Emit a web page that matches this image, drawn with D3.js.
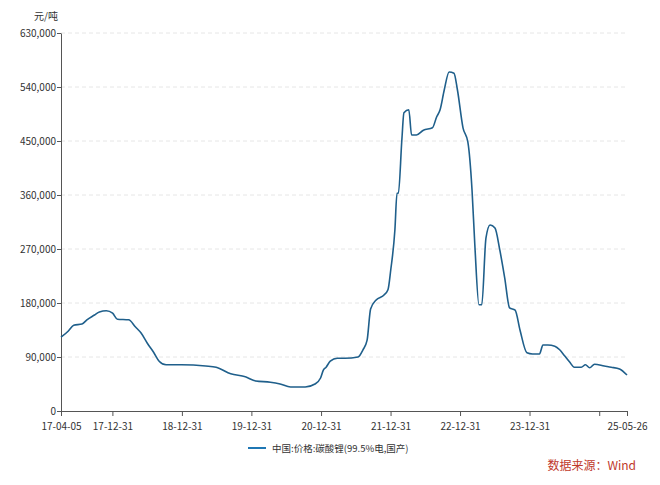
<!DOCTYPE html>
<html><head><meta charset="utf-8">
<script src="https://cdn.jsdelivr.net/npm/d3@7"></script>
<style>body{margin:0;background:#fff}svg{font-family:"Noto Sans CJK SC","Noto Sans",sans-serif}</style>
</head><body>
<svg id="chart" width="660" height="485"></svg>
<script>
// decimal years
var years = [2017.26,2017.36,2017.44,2017.56,2017.63,2017.74,2017.81,2017.91,2018.0,2018.07,2018.23,2018.33,2018.41,2018.5,2018.59,2018.67,2018.77,2018.99,2019.34,2019.49,2019.7,2019.91,2020.06,2020.27,2020.41,2020.56,2020.77,2020.91,2020.99,2021.03,2021.07,2021.13,2021.23,2021.34,2021.53,2021.6,2021.66,2021.71,2021.79,2021.9,2021.96,2022.0,2022.06,2022.09,2022.11,2022.16,2022.19,2022.26,2022.3,2022.37,2022.47,2022.6,2022.66,2022.71,2022.77,2022.84,2022.91,2022.96,2023.04,2023.11,2023.17,2023.21,2023.27,2023.31,2023.37,2023.43,2023.5,2023.57,2023.64,2023.71,2023.79,2023.86,2023.96,2024.04,2024.14,2024.19,2024.26,2024.36,2024.43,2024.5,2024.57,2024.64,2024.74,2024.8,2024.86,2024.93,2025.07,2025.17,2025.29,2025.4]
var prices = [123,133,143,145,152,160,165,167,163,153,152,140,130,113,98,83,77,77,75,73,62,57,50,48,45,40,40,45,55,68,73,83,88,88,90,102,118,170,185,193,202,235,302,363,363,452,497,502,460,460,468,472,490,502,535,565,563,535,472,448,368,277,177,177,288,310,305,268,222,172,168,135,97,95,95,110,110,108,102,92,82,73,73,77,72,78,75,73,70,60].map(function (v) { return v * 1000 })
var yTicks = [0,90000,180000,270000,360000,450000,540000,630000]
var xTickDates = ['2017-04-05','2017-12-31','2018-12-31','2019-12-31','2020-12-31','2021-12-31','2022-12-31','2023-12-31','2024-12-31','2025-05-26']
var xTickLabels = ['17-04-05','17-12-31','18-12-31','19-12-31','20-12-31','21-12-31','22-12-31','23-12-31','','25-05-26']
var seriesName = '中国:价格:碳酸锂(99.5%电,国产)'

function yearToDate (y) {
  var yr = Math.floor(y)
  var a = new Date(yr, 0, 1), b = new Date(yr + 1, 0, 1)
  return new Date(+a + (y - yr) * (b - a))
}
var data = years.map(function (y, i) { return { d: yearToDate(y), v: prices[i] } })
data[0].d = new Date(2017, 3, 5)
data[data.length - 1].d = new Date(2025, 4, 26)

var svg = d3.select('#chart')
var x = d3.scaleTime().domain([new Date(2017, 3, 5), new Date(2025, 4, 26)]).range([61, 627])
var y = d3.scaleLinear().domain([0, 630000]).range([411, 33])

svg.append('g').selectAll('line').data(yTicks.slice(1)).enter().append('line')
  .attr('x1', 61).attr('x2', 627).attr('y1', y).attr('y2', y)
  .attr('stroke', '#e6e6e6').attr('stroke-dasharray', '4,3')

var yAxis = svg.append('g').attr('transform', 'translate(61,0)')
  .call(d3.axisLeft(y).tickValues(yTicks).tickFormat(d3.format(',')).tickSize(4).tickSizeOuter(0))
var xAxis = svg.append('g').attr('transform', 'translate(0,411)')
  .call(d3.axisBottom(x).tickValues(xTickDates.map(function (s) { return d3.timeParse('%Y-%m-%d')(s) }))
    .tickFormat(function (d, i) { return xTickLabels[i] }).tickSize(5).tickSizeOuter(0))
;[yAxis, xAxis].forEach(function (g) {
  g.selectAll('path,line').attr('stroke', '#555')
  g.selectAll('text').attr('fill', '#333').style('font-size', '10px').style('font-family', 'Noto Sans CJK SC')
})
yAxis.selectAll('text').attr('x', -5)
xAxis.selectAll('text').attr('dy', '1.1em')

svg.append('text').attr('x', 46).attr('y', 20).attr('text-anchor', 'middle')
  .style('font-size', '10px').attr('fill', '#333').text('元/吨')

var line = d3.line().x(function (d) { return x(d.d) }).y(function (d) { return y(d.v) }).curve(d3.curveMonotoneX)
svg.append('path').datum(data).attr('d', line).attr('fill', 'none')
  .attr('stroke', '#1f5f8b').attr('stroke-width', 1.6)

svg.append('line').attr('x1', 248).attr('x2', 266).attr('y1', 448).attr('y2', 448)
  .attr('stroke', '#1f77b4').attr('stroke-width', 2)
svg.append('text').attr('x', 272).attr('y', 451.5).style('font-size', '9.5px').attr('fill', '#333').text(seriesName)

svg.append('text').attr('x', 636).attr('y', 470).attr('text-anchor', 'end')
  .style('font-size', '12px').attr('fill', '#c0392b').text('数据来源：Wind')
</script>
</body></html>
